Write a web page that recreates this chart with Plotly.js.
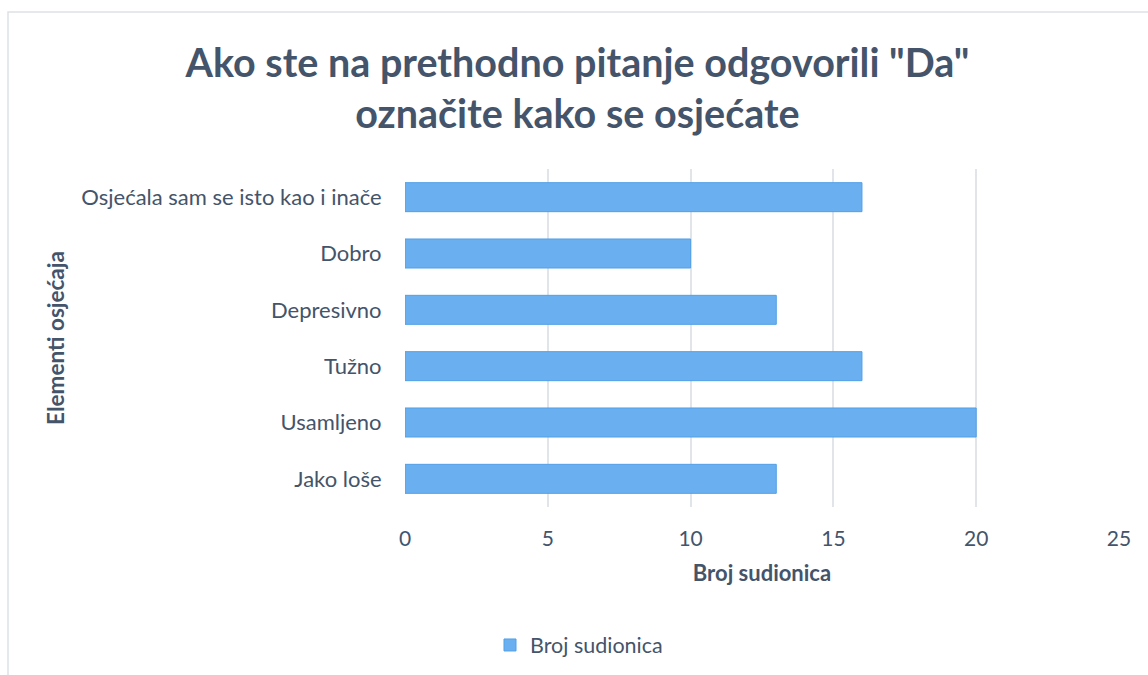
<!DOCTYPE html>
<html>
<head>
<meta charset="utf-8">
<script src="https://cdn.plot.ly/plotly-3.0.1.min.js"></script>
<style>html,body{margin:0;padding:0;background:#fff;} #chart{width:1148px;height:675px;}</style>
</head>
<body>
<div id="chart"></div>
<script>
const categories = ["Jako loše", "Usamljeno", "Tužno", "Depresivno", "Dobro", "Osjećala sam se isto kao i inače"];
const values = [13, 20, 16, 13, 10, 16];
const seriesName = "Broj sudionica";
const chartTitle = "Ako ste na prethodno pitanje odgovorili \"Da\"<br>označite kako se osjećate";
const xTitle = "Broj sudionica";
const yTitle = "Elementi osjećaja";
const xTicks = [0, 5, 10, 15, 20, 25];

const txt = "#44546A";
const fontFam = "Lato, 'Open Sans', sans-serif";

const trace = {
  type: "bar",
  orientation: "h",
  y: categories,
  x: values,
  name: seriesName,
  marker: {color: "#6AB0F0", line: {color: "#519FE6", width: 1}},
  hoverinfo: "x+y"
};

const layout = {
  width: 1148,
  height: 675,
  paper_bgcolor: "#ffffff",
  plot_bgcolor: "#ffffff",
  font: {family: fontFam, color: txt, size: 21},
  margin: {l: 405, r: 29, t: 169, b: 168, autoexpand: false},
  title: {
    text: chartTitle,
    font: {family: fontFam, size: 39.5, color: txt, weight: "bold"},
    xref: "container", x: 0.503, xanchor: "center",
    yref: "container", y: 1 - 77 / 675, yanchor: "middle"
  },
  bargap: 0.485,
  xaxis: {
    range: [0, 25],
    tickvals: xTicks,
    ticktext: xTicks.map(String),
    showgrid: true,
    gridcolor: "#E1E4E8",
    gridwidth: 2,
    zeroline: false,
    showline: false,
    ticks: "outside", ticklen: 13, tickcolor: "rgba(0,0,0,0)",
    tickfont: {size: 21, color: txt},
    title: {text: xTitle, font: {size: 22, color: txt, weight: "bold"}, standoff: 16},
    fixedrange: true
  },
  yaxis: {
    type: "category",
    showgrid: false,
    zeroline: false,
    showline: false,
    ticks: "outside", ticklen: 18, tickcolor: "rgba(0,0,0,0)",
    tickfont: {size: 22, color: txt},
    title: {text: yTitle, font: {size: 22.5, color: txt, weight: "bold"}, standoff: 10},
    fixedrange: true
  },
  showlegend: true,
  legend: {
    orientation: "h",
    x: (490 - 405) / 714, xanchor: "left", xref: "paper",
    y: (507 - 645) / 338, yanchor: "middle",
    font: {size: 21.5, color: txt},
    itemwidth: 30
  },
  shapes: [{
    type: "rect", xref: "paper", yref: "paper",
    x0: (8 - 405) / 714, x1: (1160 - 405) / 714,
    y0: (507 - 690) / 338, y1: (507 - 12) / 338,
    line: {color: "#DDE1E6", width: 1.5},
    fillcolor: "rgba(0,0,0,0)",
    layer: "below"
  }]
};

Plotly.newPlot("chart", [trace], layout, {displayModeBar: false, staticPlot: true});
</script>
</body>
</html>
